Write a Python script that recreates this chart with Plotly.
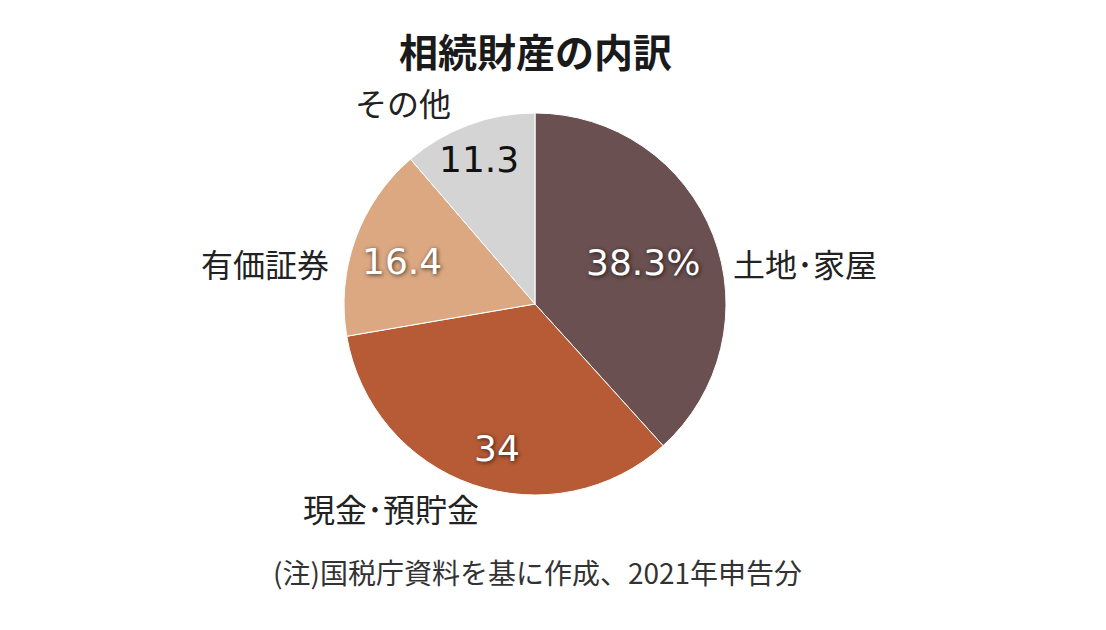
import plotly.graph_objects as go

categories = ["土地･家屋", "現金･預貯金", "有価証券", "その他"]
values = [38.3, 34, 16.4, 11.3]
value_labels = ["38.3%", "34", "16.4", "11.3"]

colors = ["#6a5050", "#b65b36", "#dca882", "#d4d4d4"]
value_colors = ["white", "white", "white", "#111111"]
value_shadow = ["1px 1px 4px rgba(0,0,0,0.7)"] * 3 + ["none"]

# label placements, in page pixels of the target picture
name_pos = [(805, 263), (391, 508), (265, 263), (403, 102)]
value_pos = [(643, 263), (497, 448), (402, 262), (479, 159)]

# page has an 8px body margin around the figure
OFF = 8
W, H = 1106 - 2 * OFF, 630 - 2 * OFF


def px(x, y):
    return (x - OFF) / W, 1 - (y - OFF) / H


cx, cy, r = 535, 304, 191
x0, y1 = px(cx - r, cy - r)
x1, y0 = px(cx + r, cy + r)

fig = go.Figure(go.Pie(
    labels=categories,
    values=values,
    sort=False,
    direction="clockwise",
    rotation=0,
    marker=dict(colors=colors, line=dict(color="white", width=1)),
    textinfo="none",
    hoverinfo="label+value",
    showlegend=False,
    domain=dict(x=[x0, x1], y=[y0, y1]),
))

jp = "Noto Sans CJK JP"
num = "DejaVu Sans, Liberation Sans, sans-serif"

annotations = []
tx, ty = px(535, 50)
annotations.append(dict(text="<b>相続財産の内訳</b>", x=tx, y=ty,
                        font=dict(family=jp, size=39, color="#1a1a1a")))
tx, ty = px(537, 572)
annotations.append(dict(text="(注)国税庁資料を基に作成、2021年申告分", x=tx, y=ty,
                        font=dict(family=jp, size=28, color="#333333")))
for name, (x, y) in zip(categories, name_pos):
    ax, ay = px(x, y)
    annotations.append(dict(text=name, x=ax, y=ay,
                            font=dict(family=jp, size=32, color="#222222")))
for lab, (x, y), c, s in zip(value_labels, value_pos, value_colors, value_shadow):
    ax, ay = px(x, y)
    annotations.append(dict(text=lab, x=ax, y=ay,
                            font=dict(family=num, size=36, color=c, shadow=s)))
for a in annotations:
    a.update(xref="paper", yref="paper", showarrow=False, xanchor="center", yanchor="middle")

fig.update_layout(
    width=W, height=H,
    margin=dict(l=0, r=0, t=0, b=0),
    paper_bgcolor="white",
    plot_bgcolor="white",
    annotations=annotations,
)

fig.write_html("out.html")
